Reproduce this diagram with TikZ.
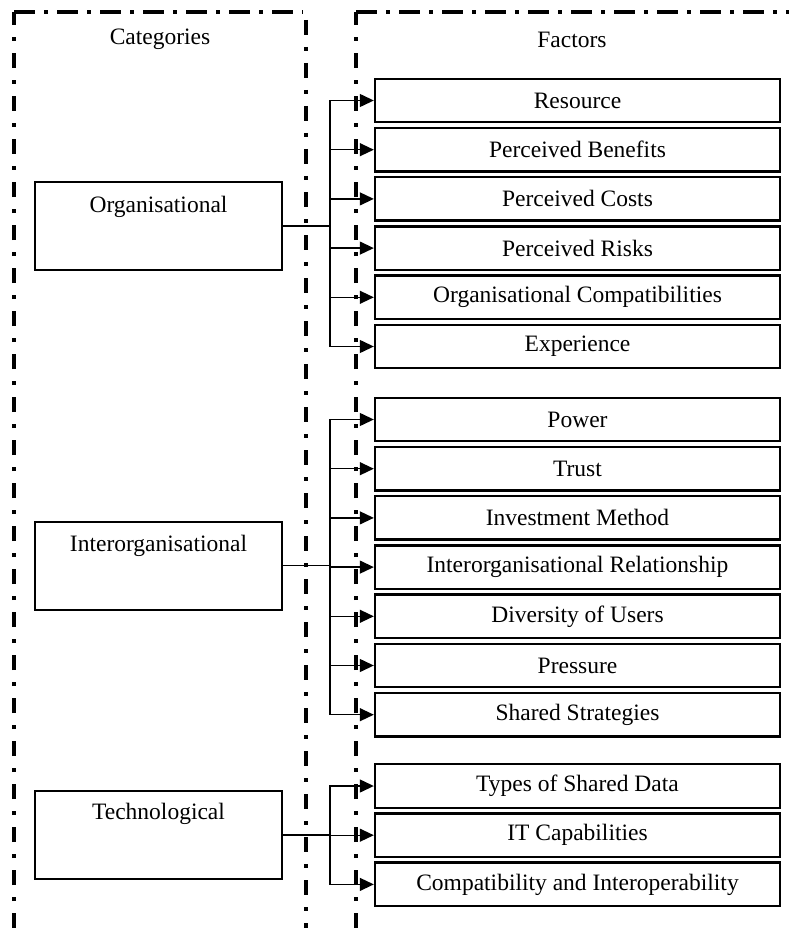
\documentclass[tikz,border=0pt]{standalone}
\usepackage{fontspec}
\setmainfont{Liberation Serif}
\usetikzlibrary{arrows.meta}
\begin{document}
\begin{tikzpicture}[x=1pt,y=-1pt,
  txt/.style={font=\fontsize{23.5}{27}\selectfont, inner sep=0pt},
  catbox/.style={draw, line width=2pt, minimum width=247pt, minimum height=88pt, inner sep=0pt},
  facbox/.style={draw, line width=2.4pt, minimum width=405pt, minimum height=43.5pt, inner sep=0pt, font=\fontsize{23.5}{27}\selectfont},
  dashh/.style={line width=3.6pt, dash pattern=on 21pt off 9pt on 4pt off 9pt},
  dashv/.style={line width=3.6pt, dash pattern=on 15pt off 12pt on 4pt off 12pt},
  conn/.style={line width=1.3pt, -{Triangle[length=14pt,width=13pt]}}
]
\useasboundingbox (0,0) rectangle (789,928);
% panels
\draw[dashv] (14,928) -- (14,12);
\draw[dashh] (14,12) -- (303,12);
\draw[dashv] (306,20) -- (306,928);
\draw[dashv] (356,928) -- (356,12);
\draw[dashh] (356,12) -- (789,12);
% headings
\node[txt] (hcat) at (160,39) {Categories};
\node[txt] (hfac) at (572,40) {Factors};
% category boxes
\node[catbox] (org) at (158.5,226) {};
\node[txt] (orgt) at (158.5,207) {Organisational};
\node[catbox] (inter) at (158.5,565.5) {};
\node[txt] (intert) at (158.5,546) {Interorganisational};
\node[catbox] (tech) at (158.5,835) {};
\node[txt] (techt) at (158.5,814) {Technological};
% factor boxes
\foreach \n/\y/\t in {o1/100.5/Resource, o2/149.7/Perceived Benefits, o3/198.9/Perceived Costs, o4/248.1/Perceived Risks, o5/297.3/Organisational Compatibilities, o6/346.5/Experience,
  i1/419.5/Power, i2/468.7/Trust, i3/517.9/Investment Method, i4/567.1/Interorganisational Relationship, i5/616.3/Diversity of Users, i6/665.5/Pressure, i7/714.7/Shared Strategies,
  t1/786/Types of Shared Data, t2/835.2/IT Capabilities, t3/884.4/Compatibility and Interoperability}
  \node[facbox] (\n) at (577.5,\y) {\t};
% connectors
\foreach \f in {o1,o2,o3,o4,o5,o6}
  \draw[conn] (org.east) -- ++(47,0) |- (\f.west);
\foreach \f in {i1,i2,i3,i4,i5,i6,i7}
  \draw[conn] (inter.east) -- ++(47,0) |- (\f.west);
\foreach \f in {t1,t2,t3}
  \draw[conn] (tech.east) -- ++(47,0) |- (\f.west);
\end{tikzpicture}
\end{document}
